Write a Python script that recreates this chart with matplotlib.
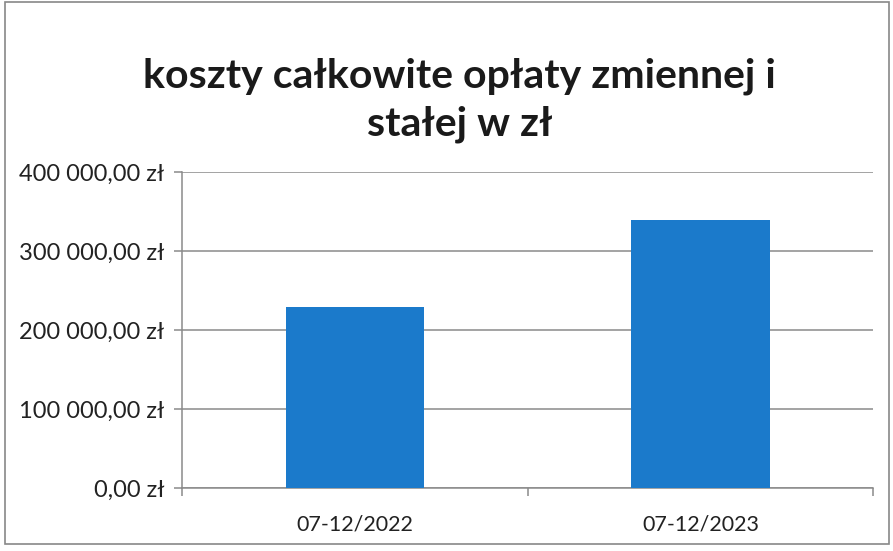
import numpy as np
import matplotlib.pyplot as plt
from matplotlib.ticker import FuncFormatter
from matplotlib.patches import Rectangle

categories = ["07-12/2022", "07-12/2023"]
values = [229000, 339000]
yticks = [0, 100000, 200000, 300000, 400000]
title = "koszty całkowite opłaty zmiennej i\nstałej w zł"


def pln(v, pos=None):
    s = f"{v:,.2f}".replace(",", " ").replace(".", ",")
    return s + " zł"


plt.rcParams['font.family'] = ['Lato', 'DejaVu Sans']

fig = plt.figure(figsize=(8.93, 5.51), dpi=100)
fig.patches.append(Rectangle((0.006, 0.012), 0.99, 0.985, transform=fig.transFigure,
                             fill=False, edgecolor='#888888', linewidth=1.2))

ax = fig.add_axes([0.204, 0.114, 0.774, 0.574])
x = np.arange(len(categories))
ax.bar(x, values, width=0.4, color='#1b7acb', zorder=3)

ax.set_xlim(-0.5, len(categories) - 0.5)
ax.set_ylim(0, 400000)
ax.set_yticks(yticks)
ax.yaxis.set_major_formatter(FuncFormatter(pln))
ax.grid(axis='y', color='#8a8a8a', linewidth=1.1, zorder=0)

ax.set_xticks(x)
ax.set_xticklabels(categories)
ax.set_xticks([-0.5, 0.5, 1.5], minor=True)
ax.tick_params(axis='x', which='major', length=0, pad=19, labelsize=15.5, colors='#222222')
ax.tick_params(axis='x', which='minor', length=6, color='#8a8a8a', width=1.1)
ax.tick_params(axis='y', length=6, color='#8a8a8a', width=1.1, labelsize=17, pad=7,
               labelcolor='#222222')

for side in ['top', 'right']:
    ax.spines[side].set_visible(False)
for side in ['left', 'bottom']:
    ax.spines[side].set_color('#8a8a8a')
    ax.spines[side].set_linewidth(1.1)

fig.text(0.515, 0.818, title, ha='center', va='center', fontsize=29.5, fontweight='bold',
         color='#1a1a1a', linespacing=1.35)

fig.savefig("out.png", dpi=100)
